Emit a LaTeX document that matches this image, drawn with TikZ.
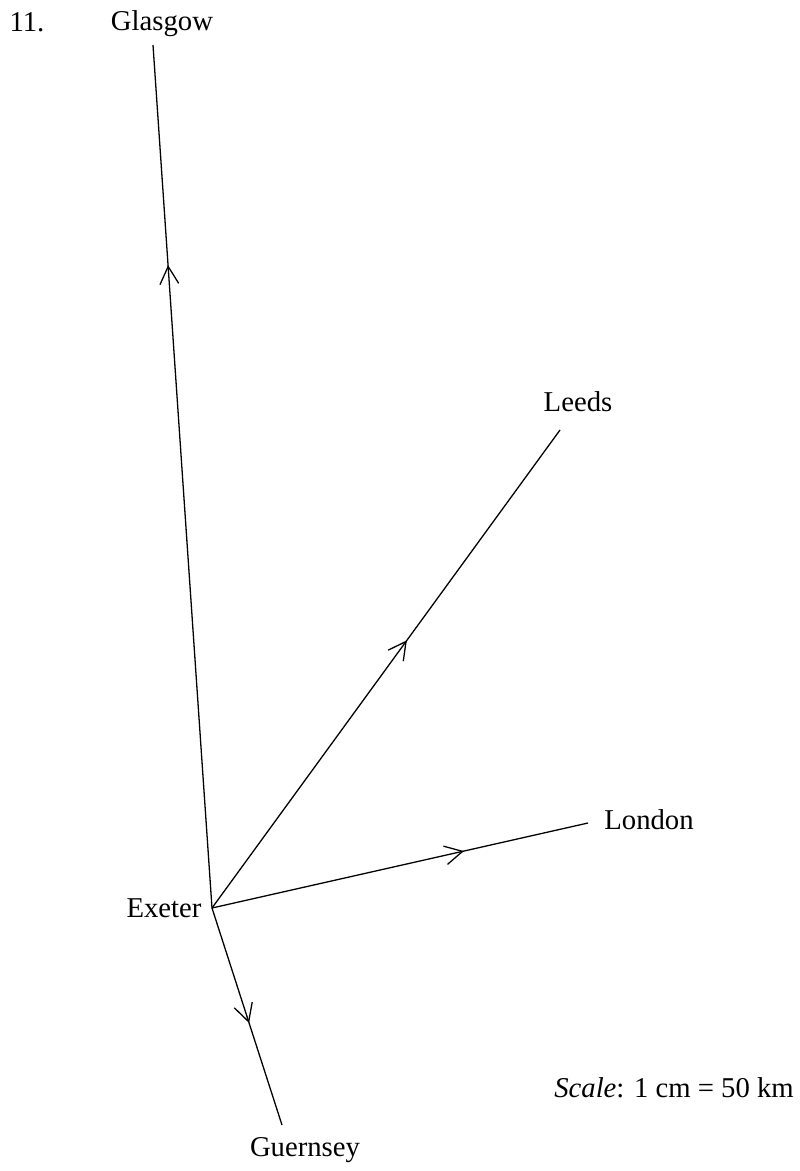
\documentclass[tikz,border=0pt]{standalone}
\usepackage{fontspec}
\setmainfont{Liberation Serif}
\usepackage{tikz}
\usetikzlibrary{arrows.meta,decorations.markings}
\tikzset{
    % route from Exeter with a barb part way along
    route/.style={
        line width=1.1pt,
        black,
        postaction={decorate},
        decoration={markings,
            mark=at position #1 with {\arrow{Straight Barb[length=15pt,width=16pt,line width=1.1pt]}}}
    },
    place/.style={
        black,
        inner sep=0pt,
        font=\fontsize{24.5}{29}\selectfont
    }
}
\begin{document}
\begin{tikzpicture}[x=0.03cm,y=-0.03cm]
    \useasboundingbox (0,0) rectangle (799,1171);

    \coordinate (ex) at (212,908);
    \coordinate (gl) at (153,45);
    \coordinate (le) at (560,430);
    \coordinate (lo) at (588,823);
    \coordinate (gu) at (282,1125);

    \node[place] (num) at (27,22) {11.};
    \node[place] (glasgow) at (162,24) {Glasgow};
    \node[place] (leeds) at (578,402) {Leeds};
    \node[place] (london) at (649,820) {London};
    \node[place] (exeter) at (164,908) {Exeter};
    \node[place] (guernsey) at (305,1150) {Guernsey};
    \node[place] (scale) at (674,1088) {\textit{Scale}: 1 cm = 50 km};

    \draw[route=0.745] (ex) -- (gl);
    \draw[route=0.56] (ex) -- (le);
    \draw[route=0.67] (ex) -- (lo);
    \draw[route=0.53] (ex) -- (gu);
\end{tikzpicture}
\end{document}
